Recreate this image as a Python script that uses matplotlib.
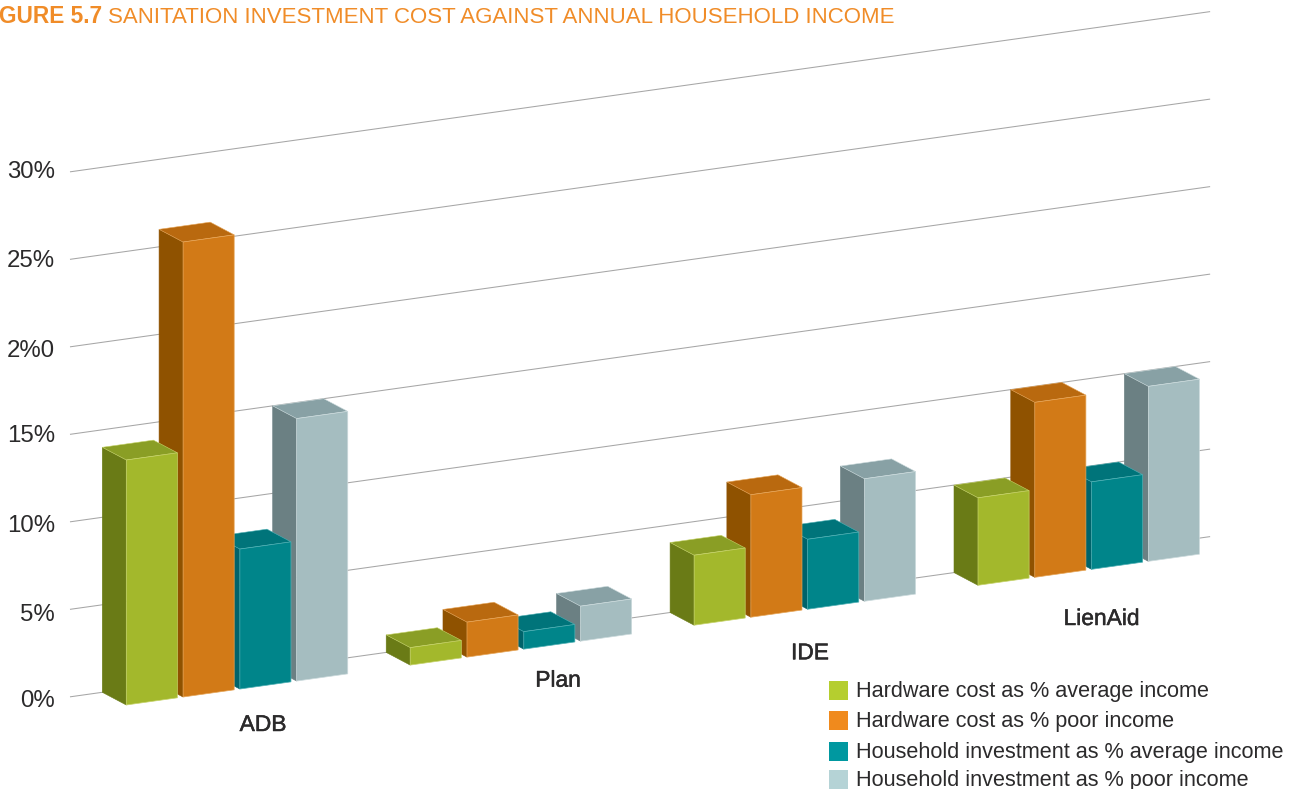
import numpy as np
import matplotlib
matplotlib.use("Agg")
import matplotlib.pyplot as plt
import matplotlib.patheffects as pe
from matplotlib.patches import Polygon, Rectangle
from matplotlib.transforms import Affine2D

categories = ["ADB", "Plan", "IDE", "LienAid"]
hardware_avg = [14, 1, 4, 5]
hardware_poor = [26, 2, 7, 10]
household_avg = [8, 1, 4, 5]
household_poor = [15, 2, 7, 10]
series_names = ["Hardware cost as % average income",
                "Hardware cost as % poor income",
                "Household investment as % average income",
                "Household investment as % poor income"]
tick_values = [0, 5, 10, 15, 20, 25, 30]
tick_labels = ["0%", "5%", "10%", "15%", "2%0", "25%", "30%"]

series = [hardware_avg, hardware_poor, household_avg, household_poor]
front_cols = ["#A3B82C", "#D27A17", "#00858A", "#A5BDC0"]
side_cols = ["#6A7B16", "#8F5200", "#00636A", "#6B8083"]
top_cols = ["#8A9E25", "#B9690F", "#00747A", "#88A1A5"]
edge_cols = ["#C6D36A", "#E6A558", "#4FB0B4", "#CBDADC"]
legend_cols = ["#B5CE2F", "#F08A1D", "#0098A0", "#B5D3D6"]
TEXT = "#2B2A2B"
ORANGE = "#F08C28"

W, H = 1291, 789
fig = plt.figure(figsize=(W / 100, H / 100), dpi=100, facecolor="white")
ax = fig.add_axes([0, 0, 1, 1])
ax.set_xlim(0, W)
ax.set_ylim(H, 0)
ax.axis("off")
plt.rcParams["font.family"] = ["Liberation Sans", "DejaVu Sans"]

# Oblique projection: (category position, percent) -> page
XU, YU, YV = 283.9, -39.9, -17.5
X0, Y0 = 126.3, 705.0
DX, DY = -24.0, -12.7
front = Affine2D.from_values(XU, YU, 0, YV, X0, Y0)
back = Affine2D.from_values(XU, YU, 0, YV, X0 + DX, Y0 + DY)
BAR_W, STEP = 0.18, 0.2


def proj(u, v, d=0.0):
    return (X0 + XU * u + DX * d, Y0 + YU * u + YV * v + DY * d)


# back wall gridlines
for v in tick_values:
    ax.plot([-0.1138, 3.9022], [v, v], color="#A6A6A6", lw=0.75, zorder=1,
            transform=back + ax.transData, solid_capstyle="butt")

# bars, painted right to left so that each front face hides its neighbour's side
for j in reversed(range(4)):
    z = 10 + (3 - j) * 3
    us = np.arange(4) + j * STEP
    for u, v in zip(us, series[j]):
        side = [proj(u, 0), proj(u, v), proj(u, v, 1), proj(u, 0, 1)]
        top = [proj(u, v), proj(u + BAR_W, v), proj(u + BAR_W, v, 1), proj(u, v, 1)]
        ax.add_patch(Polygon(side, closed=True, fc=side_cols[j], ec=side_cols[j], lw=0.4, zorder=z))
        ax.add_patch(Polygon(top, closed=True, fc=top_cols[j], ec=edge_cols[j], lw=0.4, zorder=z + 1))
    ax.bar(us, series[j], width=BAR_W, align="edge", color=front_cols[j],
           edgecolor=edge_cols[j], linewidth=0.5, zorder=z + 2,
           transform=front + ax.transData)

# value labels
tick_baselines = [706.7, 620.7, 532, 441.5, 357, 266.7, 178.3]
for y, lab in zip(tick_baselines, tick_labels):
    ax.text(55, y, lab, ha="right", va="baseline", fontsize=17.3, color=TEXT)

# category labels
cat_x = [263, 558, 810, 1101.5]
cat_y = [731, 686.7, 659.3, 625]
for name, x, y in zip(categories, cat_x, cat_y):
    ax.text(x, y, name, ha="center", va="baseline", fontsize=16.4, color=TEXT,
            path_effects=[pe.withStroke(linewidth=0.35, foreground=TEXT)])

# legend
leg_box_y = [681, 711, 742, 770]
leg_text_y = [696.7, 727.3, 758, 786]
for name, c, by, ty in zip(series_names, legend_cols, leg_box_y, leg_text_y):
    ax.add_patch(Rectangle((829, by), 18.5, 19, fc=c, ec="none", zorder=5))
    ax.text(856, ty, name, ha="left", va="baseline", fontsize=15.6, color=TEXT)

# title
ax.text(-1, 22.5, "GURE 5.7", ha="left", va="baseline", fontsize=16.3, fontweight="bold", color=ORANGE)
ax.text(108, 22.5, "SANITATION INVESTMENT COST AGAINST ANNUAL HOUSEHOLD INCOME",
        ha="left", va="baseline", fontsize=16.03, color=ORANGE)

fig.savefig("out.png", dpi=100, facecolor="white")
